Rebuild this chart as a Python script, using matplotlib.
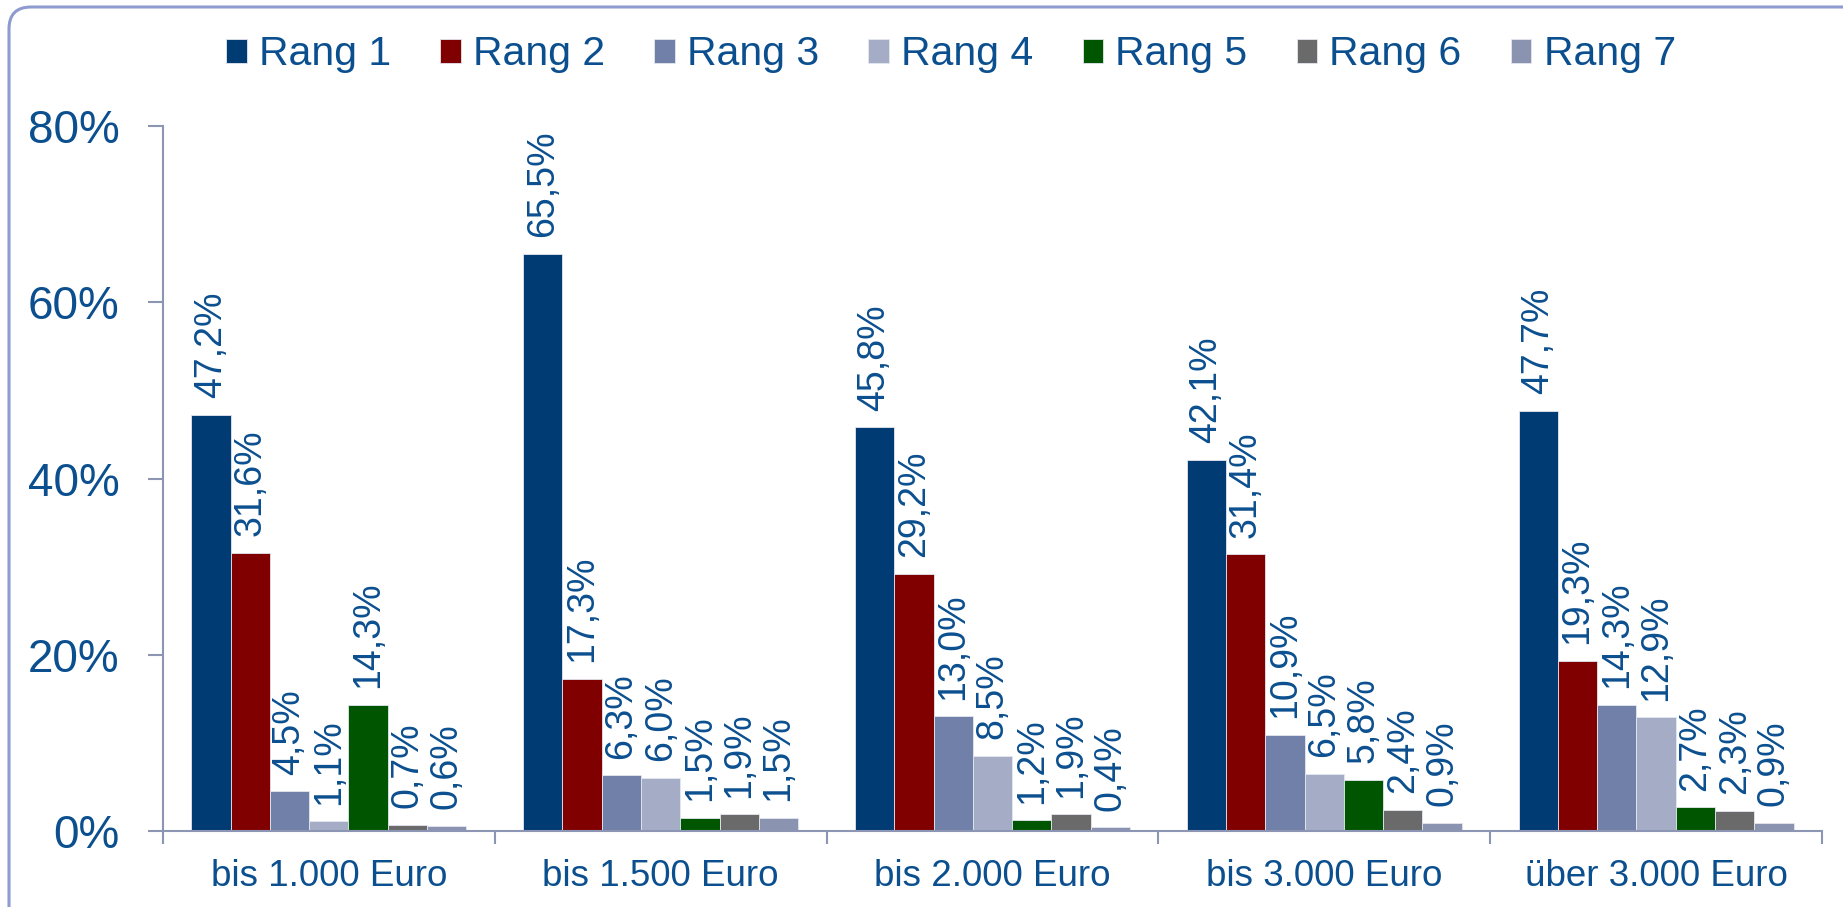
import numpy as np
import matplotlib
matplotlib.use("Agg")
import matplotlib.pyplot as plt
from matplotlib.patches import FancyBboxPatch
from matplotlib.transforms import IdentityTransform
from matplotlib.ticker import FixedLocator, NullFormatter, FuncFormatter

plt.rcParams['font.family'] = ['Liberation Sans', 'DejaVu Sans']

# data
categories = ["bis 1.000 Euro", "bis 1.500 Euro", "bis 2.000 Euro", "bis 3.000 Euro", "über 3.000 Euro"]
series_names = ["Rang 1", "Rang 2", "Rang 3", "Rang 4", "Rang 5", "Rang 6", "Rang 7"]
rang1 = [47.2, 65.5, 45.8, 42.1, 47.7]
rang2 = [31.6, 17.3, 29.2, 31.4, 19.3]
rang3 = [4.5, 6.3, 13.0, 10.9, 14.3]
rang4 = [1.1, 6.0, 8.5, 6.5, 12.9]
rang5 = [14.3, 1.5, 1.2, 5.8, 2.7]
rang6 = [0.7, 1.9, 1.9, 2.4, 2.3]
rang7 = [0.6, 1.5, 0.4, 0.9, 0.9]
yticks = [0, 20, 40, 60, 80]

series = [rang1, rang2, rang3, rang4, rang5, rang6, rang7]
colors = ["#003B73", "#800000", "#7180A8", "#A5ADC6", "#005500", "#6A6A6A", "#8A93B0"]
txt = "#0B4F8F"
axis_col = "#8C96B4"

fig = plt.figure(figsize=(18.43, 9.07), dpi=100)
ax = fig.add_axes([0.0884, 0.0838, 0.9002, 0.7772])

x = np.arange(len(categories))
w = 0.1184
for j, (vals, name, c) in enumerate(zip(series, series_names, colors)):
    pos = x + (j - 3) * w
    bars = ax.bar(pos, vals, width=w, color=c, edgecolor="#E4E7F0", linewidth=0.6, label=name)
    for b, v in zip(bars, vals):
        ax.annotate(f"{v:.1f}%".replace(".", ","),
                    (b.get_x() + b.get_width() / 2, b.get_height()),
                    xytext=(0, 12), textcoords="offset points",
                    rotation=90, ha="center", va="bottom",
                    fontsize=27, color=txt)

ax.set_xlim(-0.5, len(categories) - 0.5)
ax.set_ylim(0, 80)
ax.set_yticks(yticks)
ax.yaxis.set_major_formatter(FuncFormatter(lambda v, p: f"{v:.0f}%"))
ax.tick_params(axis="y", length=11, width=1.5, color=axis_col, pad=20,
               labelsize=33, labelcolor=txt)

ax.xaxis.set_major_locator(FixedLocator(np.arange(len(categories) + 1) - 0.5))
ax.xaxis.set_major_formatter(NullFormatter())
ax.xaxis.set_minor_locator(FixedLocator(x))
ax.set_xticklabels(categories, minor=True)
ax.tick_params(axis="x", which="major", length=9, width=1.5, color=axis_col)
ax.tick_params(axis="x", which="minor", length=0, pad=20, labelsize=26.5, labelcolor=txt)

for s in ["top", "right"]:
    ax.spines[s].set_visible(False)
for s in ["left", "bottom"]:
    ax.spines[s].set_color(axis_col)
    ax.spines[s].set_linewidth(1.5)

leg = fig.legend(loc="center", bbox_to_anchor=(0.516, 0.940), ncol=7, frameon=False,
                 fontsize=29.5, handlelength=0.5, handleheight=0.5, handletextpad=0.3,
                 columnspacing=1.2, labelcolor=txt)

# rounded frame around the chart, cut off at right and bottom
frame = FancyBboxPatch((9, -40), 1900, 907 - 7 + 40,
                       boxstyle="round,pad=0,rounding_size=22",
                       transform=IdentityTransform(), fill=False,
                       edgecolor="#8D9BD0", linewidth=2.2)
fig.patches.append(frame)

fig.savefig("out.png", dpi=100)
